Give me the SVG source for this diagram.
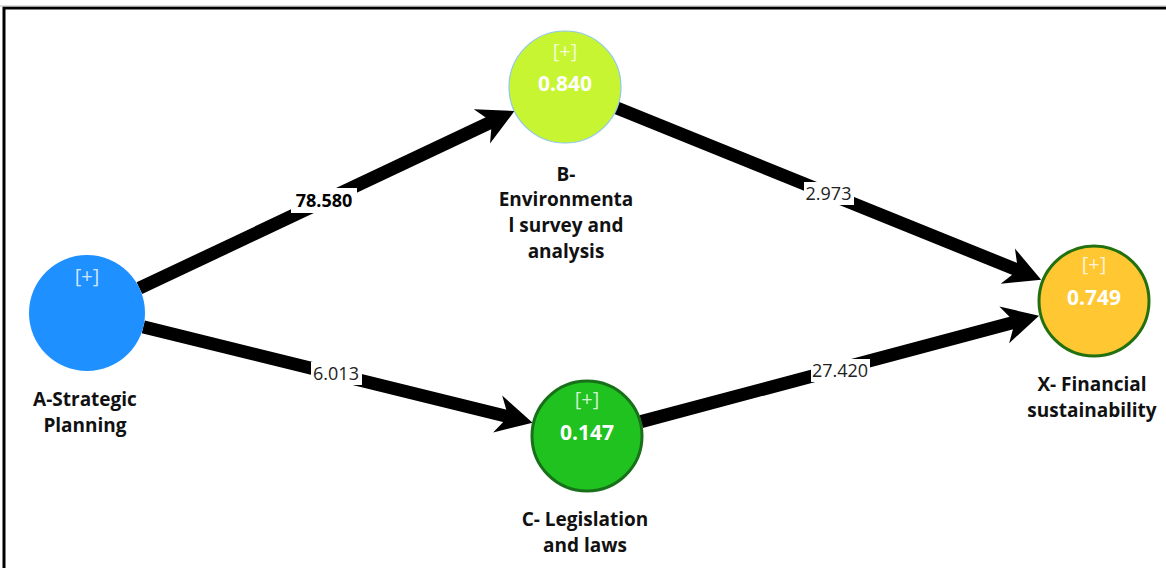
<svg xmlns="http://www.w3.org/2000/svg" width="1166" height="568" viewBox="0 0 1166 568">
<style>
.edge{stroke:#000;stroke-width:13;fill:none;marker-end:url(#ah)}
.plus{font-family:"Open Sans","Noto Sans",sans-serif;font-size:20px;fill:#fff;fill-opacity:0.8;text-anchor:middle}
.val{font-family:"Open Sans","Noto Sans",sans-serif;font-size:21px;font-weight:bold;fill:#fff;text-anchor:middle}
.lbl{font-family:"Open Sans","Noto Sans",sans-serif;font-size:19px;font-weight:bold;fill:#111;text-anchor:middle}
.el{font-family:"Open Sans","Noto Sans",sans-serif;font-size:18px;fill:#222;text-anchor:middle}
.elb{font-weight:bold;fill:#000}
.bg{fill:#fff}
</style>
<defs>
<marker id="ah" markerUnits="userSpaceOnUse" markerWidth="46" markerHeight="46" viewBox="-38 -23 42 46" refX="-14" refY="0" orient="auto" overflow="visible">
<path d="M0,0 L-36,-19 L-25,0 L-36,19 Z" fill="#000"/>
</marker>
</defs>
<rect x="4" y="8" width="1190" height="600" fill="#fff" stroke="#000" stroke-width="3"/>
<line x1="0" y1="6" x2="1166" y2="6" stroke="#bbb" stroke-width="1"/>
<g id="connectors">
<path class="edge" d="M139.4,288.2 L501.8,117.0"/>
<path class="edge" d="M143.3,326.9 L519.0,419.3"/>
<path class="edge" d="M616.9,108 L1028.2,274.4"/>
<path class="edge" d="M641.1,421.6 L1025.5,319.3"/>
<rect class="bg" x="291" y="188" width="66" height="25"/>
<text class="el elb" x="324" y="206.5">78.580</text>
<rect class="bg" x="311" y="362" width="51" height="23"/>
<text class="el" x="336" y="379.5">6.013</text>
<rect class="bg" x="804" y="182" width="50" height="23"/>
<text class="el" x="828.5" y="199.5">2.973</text>
<rect class="bg" x="811" y="359" width="59" height="23"/>
<text class="el" x="840" y="376.5">27.420</text>
</g>
<g id="node-A">
<circle cx="87" cy="313" r="58" fill="#1e90ff"/>
<text class="plus" x="87" y="283">[+]</text>
<text class="lbl" x="85" y="406">A-Strategic</text>
<text class="lbl" x="85" y="432">Planning</text>
</g>
<g id="node-B">
<circle cx="565" cy="87" r="56" fill="#c8f532" stroke="#8fc8e8" stroke-width="1.2"/>
<text class="plus" x="565" y="58">[+]</text>
<text class="val" x="565" y="90.5">0.840</text>
<text class="lbl" x="566" y="181">B-</text>
<text class="lbl" x="566" y="206">Environmenta</text>
<text class="lbl" x="566" y="232">l survey and</text>
<text class="lbl" x="566" y="258">analysis</text>
</g>
<g id="node-C">
<circle cx="587" cy="436" r="55" fill="#1fc21f" stroke="#19701a" stroke-width="3"/>
<text class="plus" x="587" y="406">[+]</text>
<text class="val" x="587" y="439.5">0.147</text>
<text class="lbl" x="585" y="526">C- Legislation</text>
<text class="lbl" x="585" y="552">and laws</text>
</g>
<g id="node-X">
<circle cx="1094" cy="301" r="55" fill="#ffc832" stroke="#23700f" stroke-width="3"/>
<text class="plus" x="1094" y="271">[+]</text>
<text class="val" x="1094" y="304.5">0.749</text>
<text class="lbl" x="1092" y="391">X- Financial</text>
<text class="lbl" x="1092" y="417">sustainability</text>
</g>
</svg>
